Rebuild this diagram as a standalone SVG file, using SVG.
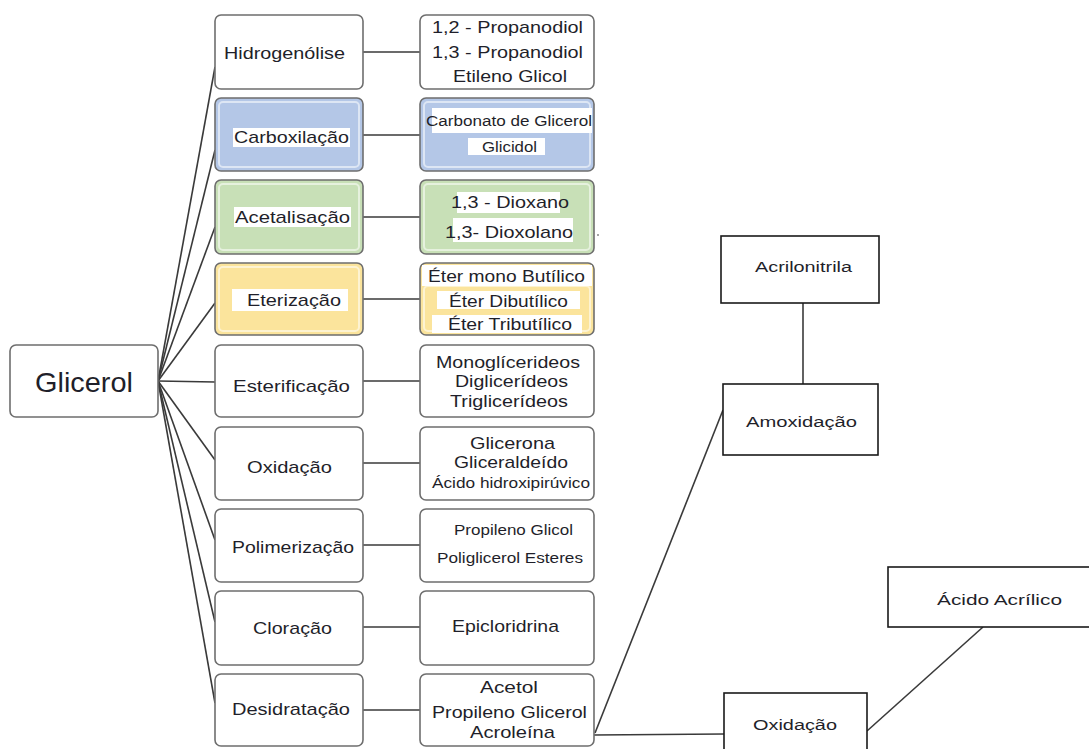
<svg xmlns="http://www.w3.org/2000/svg" width="1089" height="749" viewBox="0 0 1089 749">
<style>
text{font-family:"Liberation Sans",Arial,sans-serif;fill:#1f1f2a;}
.m{font-size:17px;}
.s{font-size:14px;}
.rb{stroke:#6e6e6e;stroke-width:1.6;}
.w{fill:#ffffff;}
.c line,.c path{stroke:#3a3a3a;stroke-width:1.6;fill:none;}
.t{stroke:#111;stroke-width:1.2;fill:none;}
.sq{fill:#fff;stroke:#1a1a1a;stroke-width:1.6;}
.bev{fill:none;stroke:#ffffff;stroke-opacity:0.55;stroke-width:2;}
</style>
<rect width="1089" height="749" fill="#ffffff"/>
<g class="c" id="connectors">
<line x1="158" y1="381" x2="215" y2="67"/>
<line x1="158" y1="381" x2="215" y2="150"/>
<line x1="158" y1="381" x2="215" y2="227"/>
<line x1="158" y1="381" x2="215" y2="303"/>
<line x1="158" y1="381" x2="215" y2="382"/>
<line x1="158" y1="381" x2="215" y2="460"/>
<line x1="158" y1="381" x2="215" y2="540"/>
<line x1="158" y1="381" x2="215" y2="622"/>
<line x1="158" y1="381" x2="215" y2="703"/>
<line x1="363" y1="52" x2="420" y2="52"/>
<line x1="363" y1="135" x2="420" y2="135"/>
<line x1="363" y1="217" x2="420" y2="217"/>
<line x1="363" y1="299" x2="420" y2="299"/>
<line x1="363" y1="381" x2="420" y2="381"/>
<line x1="363" y1="463" x2="420" y2="463"/>
<line x1="363" y1="545" x2="420" y2="545"/>
<line x1="363" y1="627" x2="420" y2="627"/>
<line x1="363" y1="710" x2="420" y2="710"/>
<line class="t" x1="594" y1="735" x2="724" y2="734"/>
<line class="t" x1="595" y1="733" x2="723" y2="410"/>
<line class="t" x1="803" y1="303" x2="803" y2="384"/>
<line class="t" x1="867" y1="731" x2="983" y2="627"/>
</g>

<g id="glicerol">
<rect class="rb" x="10" y="345" width="148" height="72" rx="6" fill="#fff"/>
<text x="84" y="392" font-size="28" text-anchor="middle" textLength="98" lengthAdjust="spacingAndGlyphs">Glicerol</text>
</g>

<g id="hidrogenolise">
<rect class="rb" x="215" y="15" width="148" height="74" rx="6" fill="#fff"/>
<text class="m" x="224" y="59" textLength="121" lengthAdjust="spacingAndGlyphs">Hidrogenólise</text>
</g>
<g id="carboxilacao">
<rect class="rb" x="215" y="98" width="148" height="73" rx="6" fill="#b4c7e7"/>
<rect class="bev" x="219" y="102" width="140" height="65" rx="4"/>
<rect class="w" x="233" y="128" width="117" height="19"/>
<text class="m" x="234" y="143" textLength="115" lengthAdjust="spacingAndGlyphs">Carboxilação</text>
</g>
<g id="acetalisacao">
<rect class="rb" x="215" y="180" width="148" height="74" rx="6" fill="#c8e0b7"/>
<rect class="bev" x="219" y="184" width="140" height="66" rx="4"/>
<rect class="w" x="234" y="207" width="117" height="20"/>
<text class="m" x="235" y="223" textLength="115" lengthAdjust="spacingAndGlyphs">Acetalisação</text>
</g>
<g id="eterizacao">
<rect class="rb" x="215" y="263" width="148" height="72" rx="6" fill="#fbe49c"/>
<rect class="bev" x="219" y="267" width="140" height="64" rx="4"/>
<rect class="w" x="232" y="289" width="116" height="22"/>
<text class="m" x="247" y="306" textLength="94" lengthAdjust="spacingAndGlyphs">Eterização</text>
</g>
<g id="esterificacao">
<rect class="rb" x="215" y="345" width="148" height="72" rx="6" fill="#fff"/>
<text class="m" x="233" y="392" textLength="117" lengthAdjust="spacingAndGlyphs">Esterificação</text>
</g>
<g id="oxidacao">
<rect class="rb" x="215" y="427" width="148" height="73" rx="6" fill="#fff"/>
<text class="m" x="247" y="473" textLength="85" lengthAdjust="spacingAndGlyphs">Oxidação</text>
</g>
<g id="polimerizacao">
<rect class="rb" x="215" y="509" width="148" height="73" rx="6" fill="#fff"/>
<text class="m" x="232" y="553" textLength="122" lengthAdjust="spacingAndGlyphs">Polimerização</text>
</g>
<g id="cloracao">
<rect class="rb" x="215" y="591" width="148" height="74" rx="6" fill="#fff"/>
<text class="m" x="253" y="634" textLength="79" lengthAdjust="spacingAndGlyphs">Cloração</text>
</g>
<g id="desidratacao">
<rect class="rb" x="215" y="674" width="148" height="72" rx="6" fill="#fff"/>
<text class="m" x="232" y="715" textLength="118" lengthAdjust="spacingAndGlyphs">Desidratação</text>
</g>

<g id="p-hidrogenolise">
<rect class="rb" x="420" y="15" width="174" height="74" rx="6" fill="#fff"/>
<text class="m" x="432" y="33" textLength="151" lengthAdjust="spacingAndGlyphs">1,2 - Propanodiol</text>
<text class="m" x="432" y="58" textLength="151" lengthAdjust="spacingAndGlyphs">1,3 - Propanodiol</text>
<text class="m" x="453" y="82" textLength="114" lengthAdjust="spacingAndGlyphs">Etileno Glicol</text>
</g>
<g id="p-carboxilacao">
<rect class="rb" x="420" y="98" width="174" height="73" rx="6" fill="#b4c7e7"/>
<rect class="bev" x="424" y="102" width="166" height="65" rx="4"/>
<rect class="w" x="432" y="108" width="160" height="25"/>
<rect class="w" x="468" y="138" width="77" height="17"/>
<text class="s" x="426" y="126" textLength="166" lengthAdjust="spacingAndGlyphs">Carbonato de Glicerol</text>
<text class="s" x="482" y="152" textLength="55" lengthAdjust="spacingAndGlyphs">Glicidol</text>
</g>
<g id="p-acetalisacao">
<rect class="rb" x="420" y="180" width="174" height="74" rx="6" fill="#c8e0b7"/>
<rect class="bev" x="424" y="184" width="166" height="66" rx="4"/>
<rect class="w" x="457" y="192" width="103" height="21"/>
<rect class="w" x="453" y="218" width="120" height="24"/>
<text class="m" x="451" y="208" textLength="118" lengthAdjust="spacingAndGlyphs">1,3 - Dioxano</text>
<text class="m" x="445" y="238" textLength="128" lengthAdjust="spacingAndGlyphs">1,3- Dioxolano</text>
<circle cx="598" cy="235" r="0.8" fill="#333"/>
</g>
<g id="p-eterizacao">
<rect class="rb" x="420" y="263" width="174" height="72" rx="6" fill="#fbe49c"/>
<rect class="w" x="422" y="265" width="170" height="21"/>
<rect class="bev" x="424" y="286" width="166" height="45" rx="4"/>
<rect class="w" x="437" y="291" width="143" height="18"/>
<rect class="w" x="432" y="315" width="150" height="18"/>
<text class="m" x="428" y="282" textLength="157" lengthAdjust="spacingAndGlyphs">Éter mono Butílico</text>
<text class="m" x="449" y="307" textLength="119" lengthAdjust="spacingAndGlyphs">Éter Dibutílico</text>
<text class="m" x="448" y="330" textLength="124" lengthAdjust="spacingAndGlyphs">Éter Tributílico</text>
</g>
<g id="p-esterificacao">
<rect class="rb" x="420" y="345" width="174" height="72" rx="6" fill="#fff"/>
<text class="m" x="436" y="368" textLength="144" lengthAdjust="spacingAndGlyphs">Monoglícerideos</text>
<text class="m" x="455" y="387" textLength="113" lengthAdjust="spacingAndGlyphs">Diglicerídeos</text>
<text class="m" x="450" y="407" textLength="118" lengthAdjust="spacingAndGlyphs">Triglicerídeos</text>
</g>
<g id="p-oxidacao">
<rect class="rb" x="420" y="427" width="174" height="73" rx="6" fill="#fff"/>
<text class="m" x="470" y="449" textLength="85" lengthAdjust="spacingAndGlyphs">Glicerona</text>
<text class="m" x="454" y="468" textLength="114" lengthAdjust="spacingAndGlyphs">Gliceraldeído</text>
<text class="s" x="432" y="488" textLength="158" lengthAdjust="spacingAndGlyphs">Ácido hidroxipirúvico</text>
</g>
<g id="p-polimerizacao">
<rect class="rb" x="420" y="509" width="174" height="73" rx="6" fill="#fff"/>
<text class="s" x="454" y="535" textLength="119" lengthAdjust="spacingAndGlyphs">Propileno Glicol</text>
<text class="s" x="437" y="563" textLength="146" lengthAdjust="spacingAndGlyphs">Poliglicerol Esteres</text>
</g>
<g id="p-cloracao">
<rect class="rb" x="420" y="591" width="174" height="74" rx="6" fill="#fff"/>
<text class="m" x="452" y="632" textLength="107" lengthAdjust="spacingAndGlyphs">Epicloridrina</text>
</g>
<g id="p-desidratacao">
<rect class="rb" x="420" y="674" width="174" height="72" rx="6" fill="#fff"/>
<text class="m" x="480" y="693" textLength="58" lengthAdjust="spacingAndGlyphs">Acetol</text>
<text class="m" x="432" y="718" textLength="155" lengthAdjust="spacingAndGlyphs">Propileno Glicerol</text>
<text class="m" x="470" y="738" textLength="85" lengthAdjust="spacingAndGlyphs">Acroleína</text>
</g>

<g id="acrilonitrila">
<rect class="sq" x="721" y="236" width="158" height="67"/>
<text class="s" x="755" y="272" textLength="97" lengthAdjust="spacingAndGlyphs">Acrilonitrila</text>
</g>
<g id="amoxidacao">
<rect class="sq" x="723" y="384" width="155" height="71"/>
<text class="s" x="746" y="427" textLength="111" lengthAdjust="spacingAndGlyphs">Amoxidação</text>
</g>
<g id="acido-acrilico">
<rect class="sq" x="888" y="567" width="202" height="60"/>
<text class="s" x="937" y="605" textLength="125" lengthAdjust="spacingAndGlyphs">Ácido Acrílico</text>
</g>
<g id="oxidacao-2">
<rect class="sq" x="724" y="693" width="143" height="70"/>
<text class="s" x="753" y="730" textLength="84" lengthAdjust="spacingAndGlyphs">Oxidação</text>
</g>
</svg>
